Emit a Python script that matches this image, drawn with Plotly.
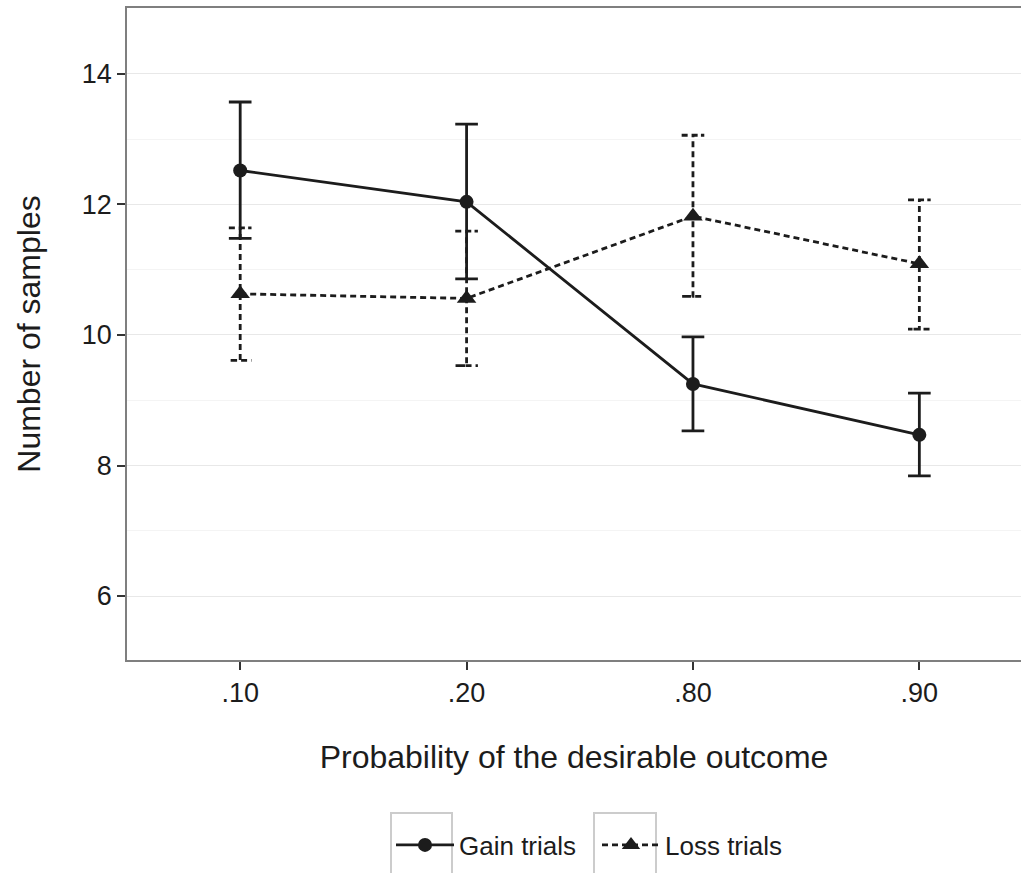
import plotly.graph_objects as go

categories = [".10", ".20", ".80", ".90"]
gain_mean = [12.52, 12.04, 9.25, 8.47]
gain_upper = [13.57, 13.23, 9.97, 9.11]
gain_lower = [11.48, 10.86, 8.53, 7.84]
loss_mean = [10.63, 10.56, 11.82, 11.09]
loss_upper = [11.64, 11.59, 13.06, 12.07]
loss_lower = [9.61, 9.53, 10.59, 10.09]

INK = "#1c1c1c"
FONT = "Liberation Sans, Arial, Helvetica, sans-serif"
CAP = 0.05
DASH = "6px,4px"
LW = 2.8

def errbar_path(means, lo, hi):
    xs, ys = [], []
    for i, _ in enumerate(means):
        xs += [i - CAP, i + CAP, i, i, i - CAP, i + CAP, None]
        ys += [hi[i], hi[i], hi[i], lo[i], lo[i], lo[i], None]
    return xs, ys

idx = list(range(len(categories)))
fig = go.Figure()

lx, ly = errbar_path(loss_mean, loss_lower, loss_upper)
fig.add_trace(go.Scatter(x=lx, y=ly, mode="lines", showlegend=False, hoverinfo="skip",
                         line=dict(color=INK, width=LW, dash=DASH)))
gx, gy = errbar_path(gain_mean, gain_lower, gain_upper)
fig.add_trace(go.Scatter(x=gx, y=gy, mode="lines", showlegend=False, hoverinfo="skip",
                         line=dict(color=INK, width=LW)))

fig.add_trace(go.Scatter(x=idx, y=gain_mean, mode="lines+markers", name="Gain trials",
                         line=dict(color=INK, width=LW),
                         marker=dict(symbol="circle", size=14, color=INK)))
fig.add_trace(go.Scatter(x=idx, y=loss_mean, mode="lines+markers", name="Loss trials",
                         line=dict(color=INK, width=LW, dash=DASH),
                         marker=dict(symbol="triangle-up", size=17, color=INK)))

L, R, T, B = 127, 0, 8, 213
W, H = 1021, 873
pw, ph = W - L - R, H - T - B

def px2paper(x, y):
    return (x - L) / pw, (H - B - y) / ph

shapes = []
for (x0, x1) in [(391, 452), (594, 656)]:
    a0, b0 = px2paper(x0, 813)
    a1, b1 = px2paper(x1, 880)
    shapes.append(dict(type="rect", xref="paper", yref="paper", x0=a0, x1=a1, y0=b1, y1=b0,
                       line=dict(color="#cccccc", width=2), fillcolor="rgba(0,0,0,0)", layer="below"))

fig.update_layout(
    width=W, height=H,
    margin=dict(l=L, r=R, t=T, b=B, autoexpand=False),
    paper_bgcolor="white", plot_bgcolor="white",
    font=dict(family=FONT, color=INK, size=26),
    showlegend=True,
    legend=dict(orientation="h", xref="container", yref="container",
                x=391 / W, y=(H - 845) / H, xanchor="left", yanchor="middle",
                font=dict(size=26, family=FONT, color=INK), itemwidth=58,
                entrywidth=133, entrywidthmode="pixels",
                bgcolor="rgba(0,0,0,0)"),
    shapes=shapes,
    xaxis=dict(range=[-0.5, 3.449], tickvals=idx, ticktext=categories,
               showgrid=False, zeroline=False, showline=True, mirror=True,
               linecolor="#7f7f7f", linewidth=1.5, ticks="outside", ticklen=8,
               tickwidth=2, tickcolor="#333333",
               tickfont=dict(size=27, color=INK),
               title=dict(text="Probability of the desirable outcome",
                          font=dict(size=32, color=INK), standoff=38)),
    yaxis=dict(range=[5.02, 15.01], tick0=0, dtick=2,
               showgrid=True, gridcolor="#e8e8e8", gridwidth=1.2, zeroline=False,
               minor=dict(dtick=1, showgrid=True, gridcolor="#f4f4f4", gridwidth=1),
               showline=True, mirror=True, linecolor="#7f7f7f", linewidth=1.5,
               ticks="outside", ticklen=8, tickwidth=2, tickcolor="#333333",
               tickfont=dict(size=27, color=INK),
               title=dict(text="Number of samples", font=dict(size=32, color=INK), standoff=32)),
)

fig.write_html("out.html")
